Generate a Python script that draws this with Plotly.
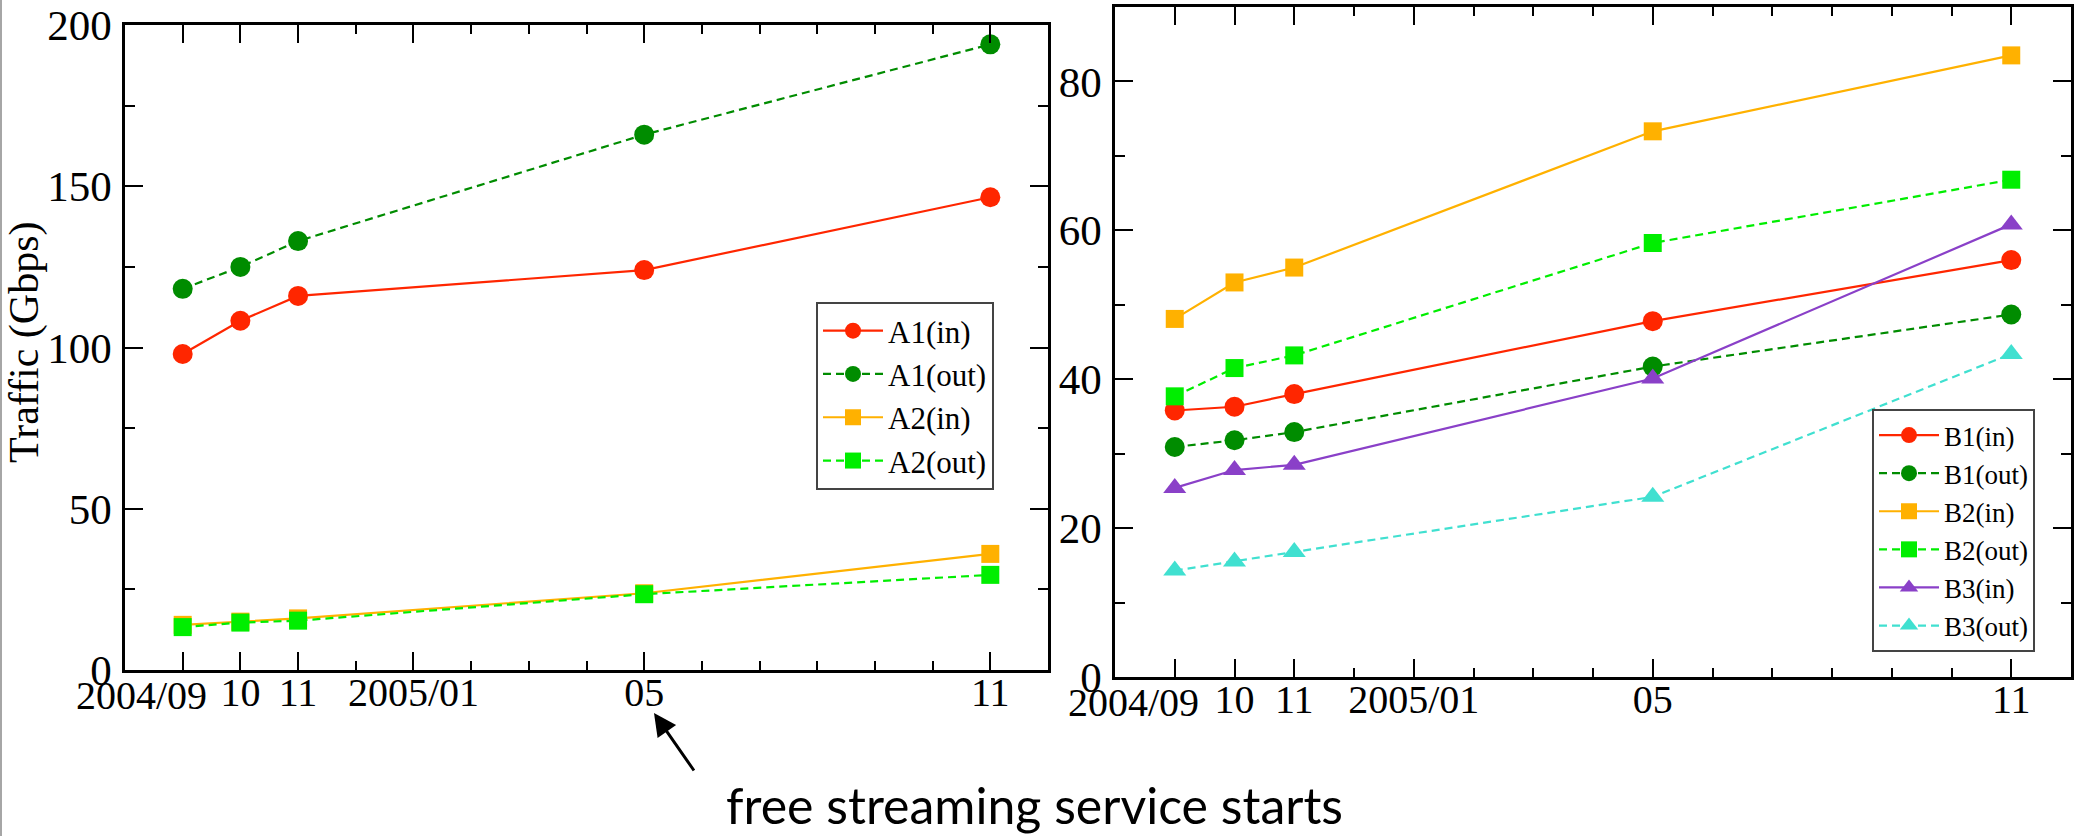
import plotly.graph_objects as go

# ---------------- data ----------------
months = ["2004/09", "2004/10", "2004/11", "2005/05", "2005/11"]

a1_in = [98.0, 108.3, 116.0, 124.0, 146.6]
a1_out = [118.2, 125.0, 133.0, 166.0, 194.0]
a2_in = [14.0, 15.0, 16.0, 23.8, 36.0]
a2_out = [13.3, 14.7, 15.3, 23.5, 29.5]

b1_in = [35.8, 36.3, 38.0, 47.8, 56.0]
b1_out = [30.9, 31.8, 32.9, 41.7, 48.7]
b2_in = [48.1, 53.0, 55.0, 73.3, 83.5]
b2_out = [37.7, 41.5, 43.2, 58.3, 66.8]
b3_in = [25.4, 27.8, 28.5, 40.1, 60.8]
b3_out = [14.3, 15.5, 16.8, 24.2, 43.4]

tick_months = ["2004/09", "2004/10", "2004/11", "2005/01", "2005/05", "2005/11"]
tick_labels = ["2004/09", "10", "11", "2005/01", "05", "11"]


def month_index(s):
    y, m = s.split("/")
    return (int(y) - 2004) * 12 + int(m) - 9


x = [month_index(m) for m in months]
tickvals = [month_index(m) for m in tick_months]
# the first label sits left of its tick in the original: drawn separately below
ticktext = [""] + tick_labels[1:]

W, H = 2080, 836

RED = "#FF2600"
DGREEN = "#008C00"
ORANGE = "#FFB100"
LGREEN = "#00EE00"
PURPLE = "#8A40C8"
CYAN = "#40E0D0"

SERIF = "Liberation Serif"
DASH = "8px,5px"
XFONT = 40

fig = go.Figure()


def add(name, y, color, symbol, dash, xa, ya, legend, size=20):
    fig.add_trace(go.Scatter(
        x=x, y=y, name=name, mode="lines+markers",
        line=dict(color=color, width=2.2, dash=dash),
        marker=dict(color=color, symbol=symbol, size=size),
        xaxis=xa, yaxis=ya, legend=legend,
    ))


add("A1(in)", a1_in, RED, "circle", "solid", "x", "y", "legend")
add("A1(out)", a1_out, DGREEN, "circle", DASH, "x", "y", "legend")
add("A2(in)", a2_in, ORANGE, "square", "solid", "x", "y", "legend", 18)
add("A2(out)", a2_out, LGREEN, "square", DASH, "x", "y", "legend", 18)

add("B1(in)", b1_in, RED, "circle", "solid", "x2", "y2", "legend2")
add("B1(out)", b1_out, DGREEN, "circle", DASH, "x2", "y2", "legend2")
add("B2(in)", b2_in, ORANGE, "square", "solid", "x2", "y2", "legend2", 18)
add("B2(out)", b2_out, LGREEN, "square", DASH, "x2", "y2", "legend2", 18)
add("B3(in)", b3_in, PURPLE, "triangle-up", "solid", "x2", "y2", "legend2")
add("B3(out)", b3_out, CYAN, "triangle-up", DASH, "x2", "y2", "legend2")


def px(v):
    return v / W


def py(v):
    return 1 - v / H


xcommon = dict(
    range=[-1, 15], tickmode="array", tickvals=tickvals, ticktext=ticktext,
    tickangle=0,
    ticks="inside", ticklen=18, tickwidth=2, tickcolor="black",
    minor=dict(ticks="inside", ticklen=9, tickwidth=2, tickcolor="black",
               tickmode="linear", tick0=0, dtick=1),
    showline=True, linecolor="black", linewidth=2.5, mirror="ticks",
    showgrid=False, zeroline=False,
    tickfont=dict(family=SERIF, size=XFONT, color="black"),
    automargin=False, ticklabelstandoff=-15,
)
ycommon = dict(
    ticks="inside", ticklen=18, tickwidth=2, tickcolor="black",
    showline=True, linecolor="black", linewidth=2.5, mirror="ticks",
    showgrid=False, zeroline=False,
    tickfont=dict(family=SERIF, size=43, color="black"),
    automargin=False, ticklabelstandoff=2,
)

fig.update_layout(
    width=W, height=H,
    margin=dict(l=0, r=0, t=0, b=0),
    paper_bgcolor="white", plot_bgcolor="white",
    showlegend=True,
    xaxis=dict(domain=[px(125), px(1048)], anchor="y", **xcommon),
    yaxis=dict(domain=[py(670), py(25)], anchor="x", range=[0, 200], dtick=50,
               minor=dict(ticks="inside", ticklen=10, tickwidth=2, tickcolor="black", dtick=25),
               **ycommon),
    xaxis2=dict(domain=[px(1115), px(2071)], anchor="y2", **xcommon),
    yaxis2=dict(domain=[py(677), py(7)], anchor="x2", range=[0, 90], dtick=20,
                minor=dict(ticks="inside", ticklen=10, tickwidth=2, tickcolor="black", dtick=10),
                **ycommon),
    legend=dict(
        x=px(816), y=py(302), xanchor="left", yanchor="top",
        bgcolor="white", bordercolor="#444444", borderwidth=2,
        font=dict(family=SERIF, size=31, color="black"),
        itemwidth=60, tracegroupgap=0,
    ),
    legend2=dict(
        x=px(1872), y=py(409), xanchor="left", yanchor="top",
        bgcolor="white", bordercolor="#444444", borderwidth=2,
        font=dict(family=SERIF, size=27, color="black"),
        itemwidth=60, tracegroupgap=0,
    ),
)

# first x tick label of each panel, offset left of its tick as in the original
for xr, ybot in (("x", 670), ("x2", 677)):
    fig.add_annotation(
        text=tick_labels[0], showarrow=False,
        xref=xr, yref="paper", x=tickvals[0], xshift=-41,
        y=py(ybot + 25), xanchor="center", yanchor="middle",
        font=dict(family=SERIF, size=XFONT, color="black"),
    )

fig.add_annotation(
    text="Traffic (Gbps)", textangle=-90, showarrow=False,
    xref="paper", yref="paper", x=px(24), y=py(343),
    xanchor="center", yanchor="middle",
    font=dict(family=SERIF, size=42, color="black"),
)

fig.add_annotation(
    text="free streaming service starts", showarrow=False,
    xref="paper", yref="paper", x=px(724), y=py(805),
    xanchor="left", yanchor="middle",
    font=dict(family="Lato", size=50, color="black"),
)

fig.add_annotation(
    text="", showarrow=True, xref="paper", yref="paper",
    x=px(654), y=py(713), ax=41, ay=59,
    arrowhead=2, arrowsize=1.5, arrowwidth=3, arrowcolor="black",
)

fig.add_shape(type="line", xref="paper", yref="paper",
              x0=px(1), x1=px(1), y0=0, y1=1,
              line=dict(color="#888888", width=1.5))

fig.write_html("out.html")
